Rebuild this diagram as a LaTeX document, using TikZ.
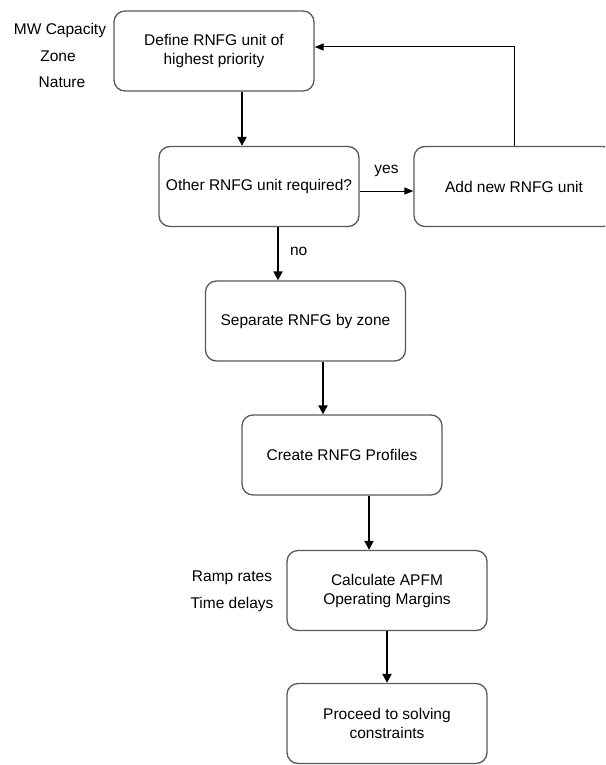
\documentclass[tikz,border=0pt]{standalone}
\usepackage{fontspec}
\setmainfont{Liberation Sans}
\usetikzlibrary{arrows.meta}

\begin{document}
\begin{tikzpicture}[x=1pt,y=-1pt,
  box/.style={draw=black!65,line width=1.3pt,rounded corners=11pt,minimum width=200pt,minimum height=80pt,align=center,inner sep=0pt,font=\fontsize{15.5}{19}\selectfont},
  flow/.style={line width=2pt,-{Triangle[length=9pt,width=9pt]}},
  back/.style={line width=1pt,-{Triangle[length=9pt,width=7pt]}},
  side/.style={inner sep=0pt,font=\fontsize{15.5}{19}\selectfont}]
\clip (0,0) rectangle (605,765);
\node[box] (define) at (214,51) {Define RNFG unit of\\highest priority};
\node[box] (other) at (259,186.5) {Other RNFG unit required?};
\node[box] (add) at (514,186.5) {Add new RNFG unit};
\node[box] (separate) at (305.5,321) {Separate RNFG by zone};
\node[box] (profiles) at (342,455) {Create RNFG Profiles};
\node[box] (margins) at (387,590.5) {Calculate APFM\\Operating Margins};
\node[box] (proceed) at (387,723.5) {Proceed to solving\\constraints};

\node[side] (cap) at (60,30) {MW Capacity};
\node[side] (zone) at (58,56) {Zone};
\node[side] (nature) at (62,82) {Nature};
\node[side] (ramp) at (232,578) {Ramp rates};
\node[side] (delay) at (232,604) {Time delays};

\draw[flow] ([xshift=28pt]define.south) -- ([xshift=28pt]define.south |- other.north);
\draw[flow] ([xshift=19pt]other.south) -- ([xshift=19pt]other.south |- separate.north)
  node[side,pos=0.45,right=11pt] (no) {no};
\draw[flow] ([xshift=17.5pt]separate.south) -- ([xshift=17.5pt]separate.south |- profiles.north);
\draw[flow] ([xshift=27pt]profiles.south) -- ([xshift=27pt]profiles.south |- margins.north);
\draw[flow] (margins.south) -- (proceed.north);

\draw[back] ([yshift=-4.5pt]other.east) -- ([yshift=-4.5pt]other.east -| add.west)
  node[side,midway,above=14pt] (yes) {yes};
\draw[back] (add.north) |- ([yshift=4pt]define.east);
\end{tikzpicture}
\end{document}
